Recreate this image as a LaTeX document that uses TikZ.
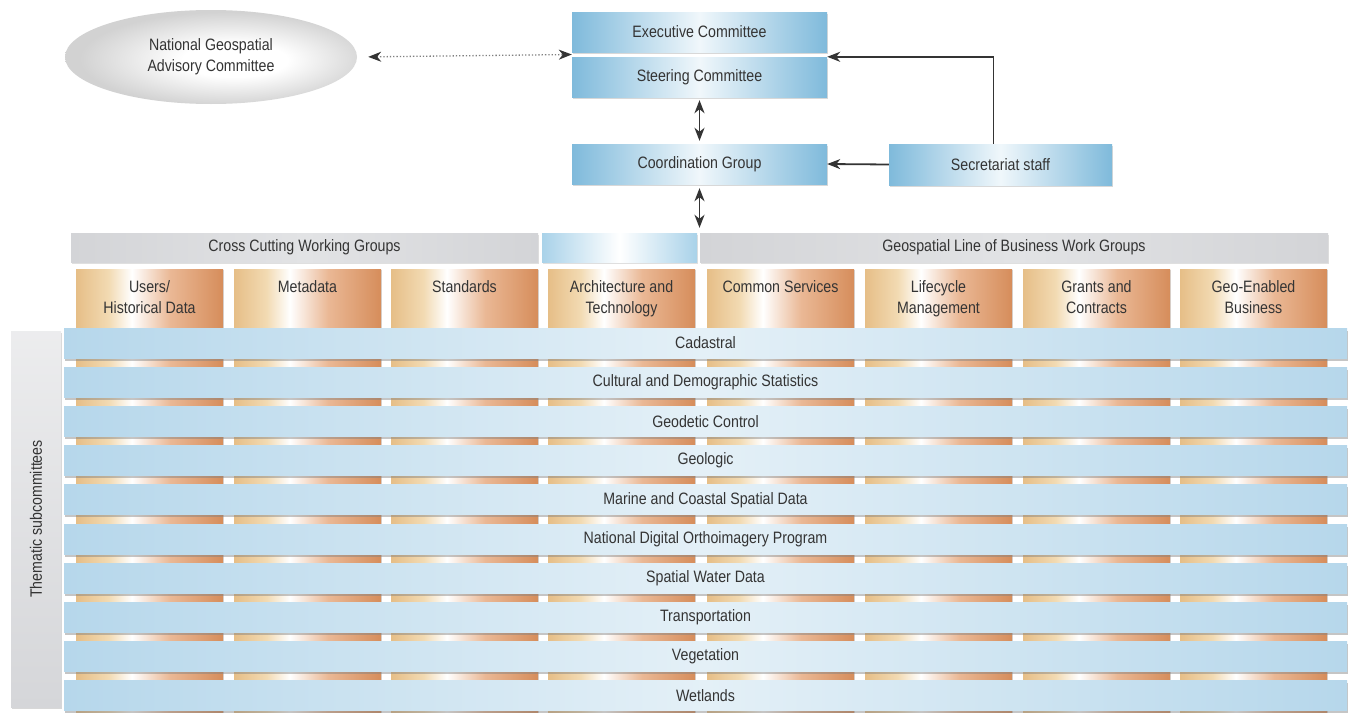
\documentclass[tikz,border=0pt]{standalone}
\usepackage{fontspec}
\setmainfont{Liberation Sans}[FakeStretch=0.86]
\usetikzlibrary{arrows.meta,shadows,calc,shapes.geometric}

\definecolor{txt}{HTML}{343434}
\definecolor{boxedge}{HTML}{7FBADB}
\definecolor{boxmid}{HTML}{F0F7FB}
\definecolor{hgray}{HTML}{D3D4D7}
\definecolor{hgraymid}{HTML}{E2E3E5}
\definecolor{hblue}{HTML}{A9D2E9}
\definecolor{colA}{HTML}{E6BE87}
\definecolor{colB}{HTML}{F2DAB2}
\definecolor{colC}{HTML}{EAB895}
\definecolor{colD}{HTML}{D68D5B}
\definecolor{bandedge}{HTML}{B6D7EB}
\definecolor{bandmid}{HTML}{E4F0F7}
\definecolor{ellgray}{HTML}{D2D2D2}
\definecolor{thmgray}{HTML}{D5D6D9}

% column fill: tan on the left, a white highlight, orange on the right
\pgfdeclarehorizontalshading{colshade}{100bp}{%
  color(0bp)=(colA); color(25bp)=(colA); color(36bp)=(colB);
  color(44bp)=(white); color(57bp)=(colC); color(75bp)=(colD);
  color(100bp)=(colD)}

% soft grey oval with a bright centre
\pgfdeclareradialshading{ovalshade}{\pgfpoint{5bp}{-2bp}}{%
  color(0bp)=(white); color(9bp)=(white); color(25bp)=(ellgray);
  color(50bp)=(ellgray)}

\tikzset{
  every node/.style={text=txt, font=\fontsize{16.5}{21}\selectfont, inner sep=0pt},
  topbox/.style={rectangle, minimum width=255pt, minimum height=40pt,
    left color=boxedge, right color=boxedge, middle color=boxmid,
    drop shadow={shadow xshift=0.5pt, shadow yshift=-2pt, opacity=0.3}},
  hdrgray/.style={rectangle, minimum height=29pt,
    left color=hgray, right color=hgray, middle color=hgraymid,
    drop shadow={shadow xshift=0.5pt, shadow yshift=-1.5pt, opacity=0.25}},
  hdrblue/.style={rectangle, minimum height=29pt,
    left color=hblue, right color=hblue, middle color=white,
    drop shadow={shadow xshift=0.5pt, shadow yshift=-1.5pt, opacity=0.25}},
  wgcol/.style={rectangle, minimum width=147pt, minimum height=443pt,
    shading=colshade,
    drop shadow={shadow xshift=1pt, shadow yshift=-1pt, opacity=0.3}},
  wgtext/.style={anchor=north, yshift=-10pt, align=center, inner sep=2pt},
  band/.style={rectangle, minimum width=1283pt, minimum height=30pt,
    left color=bandedge, right color=bandedge, middle color=bandmid,
    drop shadow={shadow xshift=1pt, shadow yshift=-2.5pt, opacity=0.45}},
  thmbox/.style={rectangle, minimum width=376pt, minimum height=50pt,
    top color=white!55!thmgray, bottom color=thmgray,
    drop shadow={shadow xshift=1pt, shadow yshift=-1.5pt, opacity=0.3}},
  arr/.style={draw=txt, line width=1.8pt, -{Stealth[length=13pt,width=10pt,inset=4pt]}},
  dbl/.style={draw=txt, line width=1.8pt,
    {Stealth[length=13pt,width=10pt,inset=4pt]}-{Stealth[length=13pt,width=10pt,inset=4pt]}},
  dotarr/.style={draw=gray, line width=1.3pt, dotted,
    {Stealth[length=13pt,width=10pt,inset=4pt,color=txt]}-{Stealth[length=13pt,width=10pt,inset=4pt,color=txt]}}
}

\begin{document}
\begin{tikzpicture}[x=1pt, y=-1pt]
\useasboundingbox (0,0) rectangle (1349,712);
\fill[white] (0,0) rectangle (1349,712);

% ---- governance ----
\node[ellipse, minimum width=292pt, minimum height=94pt, shading=ovalshade,
      align=center] (ngac) at (211,57)
      {National Geospatial\\Advisory Committee};
\node[topbox] (exec)  at (699.5,32)  {Executive Committee};
\node[topbox] (steer) at (699.5,77)  {Steering Committee};
\node[topbox] (coord) at (699.5,164) {Coordination Group};
\node[topbox, minimum width=223pt, minimum height=41pt] (sec) at (1000.5,164.5) {Secretariat staff};

\coordinate (gapW) at ($(exec.south west)!0.5!(steer.north west)$);

% ---- working-group headers ----
\node[hdrgray, minimum width=467pt] (cross) at (304.5,247.5) {Cross Cutting Working Groups};
\node[hdrblue, minimum width=155pt] (mid)   at (619.5,247.5) {};
\node[hdrgray, minimum width=628pt] (geo)   at (1014,247.5)  {Geospatial Line of Business Work Groups};

% ---- working-group columns ----
\node[wgcol, label={[wgtext]north:{Users/\\Historical Data}}]     (c1) at (149.5,490.5)  {};
\node[wgcol, label={[wgtext]north:{Metadata}}]                    (c2) at (307.5,490.5)  {};
\node[wgcol, label={[wgtext]north:{Standards}}]                   (c3) at (464.5,490.5)  {};
\node[wgcol, label={[wgtext]north:{Architecture and\\Technology}}] (c4) at (621.5,490.5) {};
\node[wgcol, label={[wgtext]north:{Common Services}}]             (c5) at (780.5,490.5)  {};
\node[wgcol, label={[wgtext]north:{Lifecycle\\Management}}]       (c6) at (938.5,490.5)  {};
\node[wgcol, label={[wgtext]north:{Grants and\\Contracts}}]       (c7) at (1096.5,490.5) {};
\node[wgcol, label={[wgtext]north:{Geo-Enabled\\Business}}]       (c8) at (1253.5,490.5) {};

% ---- thematic subcommittee bands ----
\foreach \t [count=\i from 0] in {Cadastral,
    Cultural and Demographic Statistics, Geodetic Control, Geologic,
    Marine and Coastal Spatial Data, National Digital Orthoimagery Program,
    Spatial Water Data, Transportation, Vegetation, Wetlands}
  \node[band] (b\i) at (705.5,{343+39.2*\i}) {\t};

\node[thmbox, rotate=90] (thm) at (36,519) {Thematic subcommittees};

% ---- connectors ----
\draw[dotarr, shorten <=11pt] (ngac.east) -- (gapW);
\draw[dbl, shorten <=3pt, shorten >=3pt] (steer.south) -- (coord.north);
\draw[dbl, shorten <=4pt, shorten >=5pt] (coord.south) -- (coord.south |- mid.north);
\draw[arr] (sec.west) -- (coord.east);
\draw[arr] ([xshift=-7pt]sec.north) |- (steer.north east);
\end{tikzpicture}
\end{document}
